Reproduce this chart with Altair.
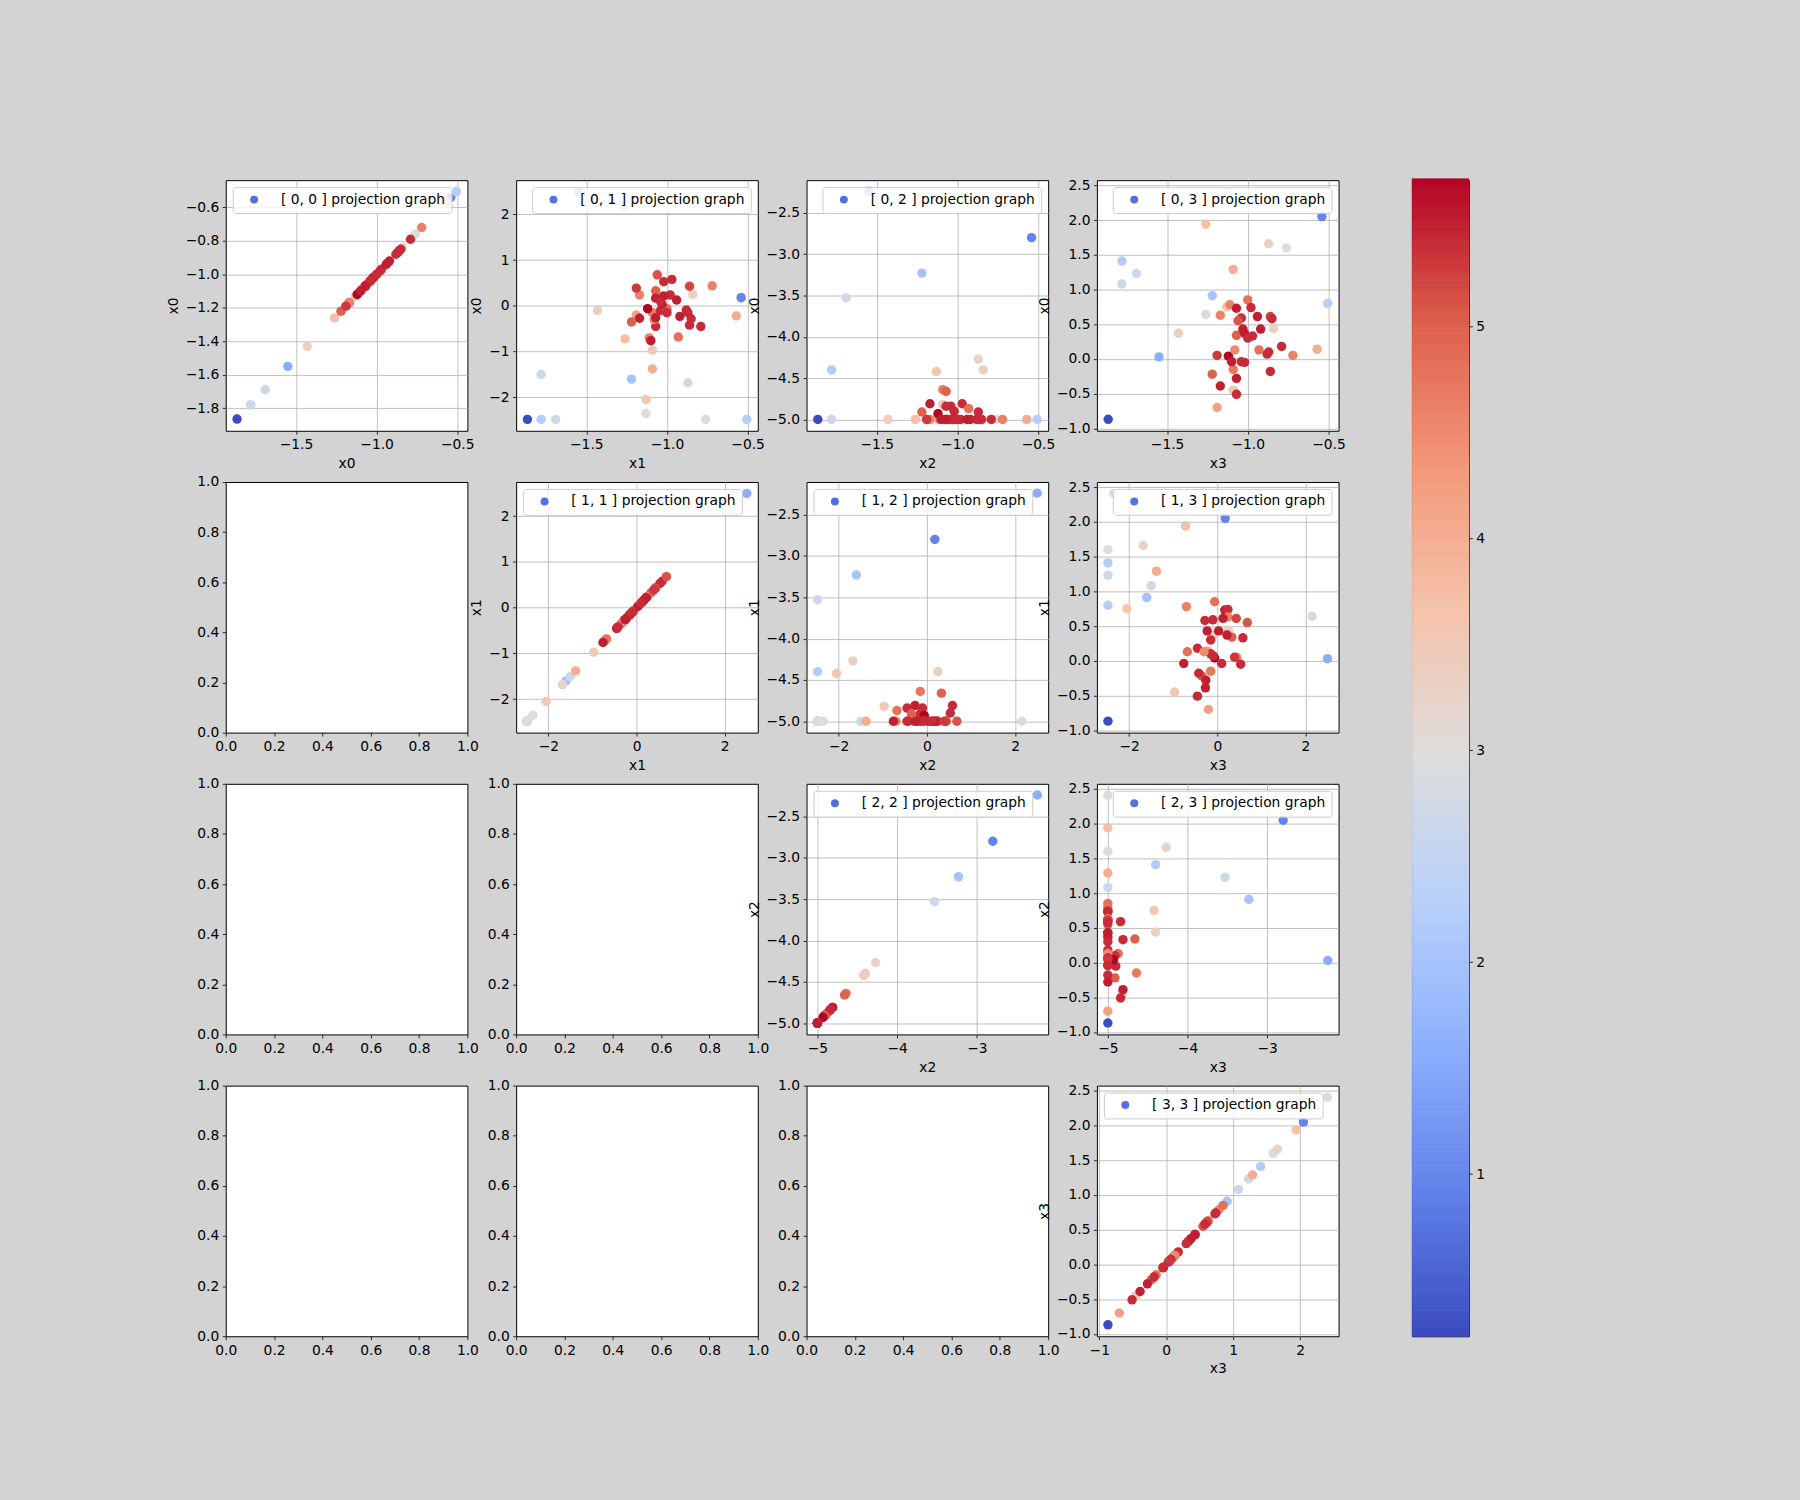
import altair as alt
import pandas as pd

# ---- data: 4-D sample points and their colour value ----
x0 = [-1.865, -0.54, -1.55, -1.22, -1.78, -1.78, -1.69, -0.505, -0.76, -1.13, -1.26,
      -0.87, -1.13, -1.09, -1.26, -1.43, -1.09, -0.84, -0.57, -0.72, -1.19, -1.11,
      -1.09, -1.07, -0.97, -1.02, -0.93, -1.07, -1.17, -1.04, -0.87, -1.22, -1.12,
      -1.00, -1.07, -0.98, -1.17, -1.06, -0.94, -0.86, -0.85, -0.92, -1.03, -1.02,
      -1.00, -0.79, -1.08, -0.88, -1.19, -1.10, -1.04, -0.86, -1.07]
x1 = [-2.48, 0.18, 2.50, -1.60, -2.48, -1.50, -2.48, -2.48, -2.48, -2.35, 2.15,
      -1.68, -2.05, -1.38, -0.72, -0.10, -0.97, 0.25, -0.22, 0.44, -0.20, -0.70,
      -0.15, 0.33, 0.58, 0.53, -0.68, -0.45, -0.27, -0.10, -0.15, -0.35, -0.06,
      -0.06, 0.17, 0.24, 0.24, 0.68, 0.13, 0.43, -0.28, -0.23, 0.03, 0.22,
      -0.15, -0.45, -0.30, -0.09, 0.39, -0.76, 0.10, -0.42, -0.26]
x2 = [-5.0, -2.80, -2.24, -3.23, -4.40, -5.0, -3.53, -5.0, -5.0, -5.0, -5.0,
      -4.27, -4.42, -5.0, -5.0, -5.0, -4.82, -4.40, -5.0, -5.0, -5.0, -5.0,
      -4.64, -4.66, -4.81, -4.90, -4.87, -4.84, -4.81, -4.84, -4.91, -4.91, -4.93,
      -5.0, -5.0, -5.0, -5.0, -5.0, -5.0, -5.0, -5.0, -5.0, -5.0, -5.0,
      -5.0, -5.0, -5.0, -5.0, -5.0, -5.0, -5.0, -5.0, -5.0]
x3 = [-0.87, 2.05, 0.03, 0.91, 1.41, 1.08, 1.23, 0.80, 1.60, 2.41, 0.64,
      1.66, 0.75, 1.29, 1.94, 0.37, -0.45, 0.44, 0.14, 0.05, -0.70, 0.78,
      -0.15, 0.34, 0.33, -0.05, 0.13, -0.51, -0.39, 0.59, 0.10, -0.22, 0.04,
      0.85, 0.73, 0.74, 0.63, 0.55, 0.61, 0.61, 0.58, 0.43, 0.43, 0.37,
      0.30, 0.18, 0.13, 0.07, 0.05, -0.04, -0.04, -0.18, -0.28]
value = [0.24, 0.95, 1.55, 2.0, 2.2, 2.65, 2.7, 2.25, 2.9, 3.0, 2.85,
         3.25, 3.6, 4.0, 3.7, 3.4, 3.5, 3.35, 4.0, 4.6, 4.2, 4.6,
         4.7, 5.0, 5.4, 5.4, 4.8, 5.4, 5.5, 5.4, 5.4, 5.0, 5.7,
         4.8, 5.5, 5.4, 4.6, 5.1, 5.5, 5.2, 5.4, 5.5, 5.5, 5.5,
         5.4, 5.4, 4.5, 5.4, 5.3, 5.5, 5.4, 5.4, 5.5]

# axis setup
DOMAINS = {"x0": [-1.935, -0.437], "x1": [-2.73, 2.75],
           "x2": [-5.137, -2.105], "x3": [-1.035, 2.575]}
XTICKS = {"x0": [-1.5, -1.0, -0.5], "x1": [-2, 0, 2],
          "x2": [-5, -4, -3], "x3": [-1, 0, 1, 2]}
YTICKS = {"x0": [-1.8, -1.6, -1.4, -1.2, -1.0, -0.8, -0.6], "x1": [-2, -1, 0, 1, 2],
          "x2": [-5.0, -4.5, -4.0, -3.5, -3.0, -2.5],
          "x3": [-1.0, -0.5, 0.0, 0.5, 1.0, 1.5, 2.0, 2.5]}
XFMT = {"x0": ".1f", "x1": "d", "x2": "d", "x3": "d"}
YFMT = {"x0": ".1f", "x1": "d", "x2": ".1f", "x3": ".1f"}
EMPTY_TICKS = [0.0, 0.2, 0.4, 0.6, 0.8, 1.0]
CBAR_TICKS = [1, 2, 3, 4, 5]
UPPER_LEFT = {(0, 0), (1, 1), (1, 2), (2, 2), (3, 3)}

COOLWARM = ["#3b4cc0", "#6282ea", "#8db0fe", "#b8d0f9", "#dddddd",
            "#f5c4ac", "#f4987a", "#de604d", "#b40426"]
CMIN, CMAX = 0.235, 5.69
cdomain = [CMIN + (CMAX - CMIN) * k / (len(COOLWARM) - 1) for k in range(len(COOLWARM))]
cscale = alt.Scale(domain=cdomain, range=COOLWARM, interpolate="rgb")

df = pd.DataFrame({"x0": x0, "x1": x1, "x2": x2, "x3": x3, "c": value})

W, H = 243, 252
HSP, VSP = 49, 51.5
FS = 13.9


def lab_expr(fmt):
    return f"replace(format(datum.value, '{fmt}'), '-', '\u2212')"


def scatter(i, j):
    xf, yf = f"x{i}", f"x{j}"
    lab = f"[ {i}, {j} ] projection graph"
    orient = "top-left" if (i, j) in UPPER_LEFT else "top-right"
    return alt.Chart(df).transform_calculate(lab=f"'{lab}'").mark_point(
        filled=True, size=90, opacity=1, strokeWidth=0
    ).encode(
        x=alt.X(f"{xf}:Q", scale=alt.Scale(domain=DOMAINS[xf], nice=False, zero=False),
                axis=alt.Axis(values=XTICKS[xf], labelExpr=lab_expr(XFMT[xf]),
                              title=f"x{j}", grid=True)),
        y=alt.Y(f"{yf}:Q", scale=alt.Scale(domain=DOMAINS[yf], nice=False, zero=False),
                axis=alt.Axis(values=YTICKS[yf], labelExpr=lab_expr(YFMT[yf]),
                              title=f"x{i}", grid=True)),
        color=alt.Color("c:Q", scale=cscale, legend=None),
        shape=alt.Shape("lab:N", scale=alt.Scale(domain=[lab], range=["circle"]),
                        legend=alt.Legend(title=None, orient=orient)),
    ).properties(width=W, height=H)


def empty():
    e = pd.DataFrame({"a": [0.0], "b": [0.0]})
    return alt.Chart(e).mark_point(opacity=0).encode(
        x=alt.X("a:Q", scale=alt.Scale(domain=[0, 1], nice=False),
                axis=alt.Axis(values=EMPTY_TICKS, labelExpr=lab_expr(".1f"), title=None, grid=False)),
        y=alt.Y("b:Q", scale=alt.Scale(domain=[0, 1], nice=False),
                axis=alt.Axis(values=EMPTY_TICKS, labelExpr=lab_expr(".1f"), title=None, grid=False)),
    ).properties(width=W, height=H)


panels = []
for i in range(4):
    for j in range(4):
        panels.append(scatter(i, j) if i <= j else empty())

grid = alt.concat(*panels, columns=4, spacing={"row": VSP, "column": HSP}, bounds="flush")
grid = grid.resolve_scale(shape="independent").resolve_legend(shape="independent")

cbar = alt.Chart(alt.sequence(CMIN, CMAX, 0.01, as_="v")).transform_calculate(
    v2="datum.v + 0.012"
).mark_rect(strokeWidth=0.6).encode(
    x=alt.value(0), x2=alt.value(57),
    y=alt.Y("v:Q", scale=alt.Scale(domain=[CMIN, CMAX], nice=False, zero=False),
            axis=alt.Axis(orient="right", values=CBAR_TICKS, format="d", title=None, grid=False)),
    y2="v2:Q",
    color=alt.Color("v:Q", scale=cscale, legend=None),
    stroke=alt.Stroke("v:Q", scale=cscale, legend=None),
).properties(width=57, height=4 * H + 3 * VSP)

chart = alt.hconcat(grid, cbar, spacing=65).properties(
    padding={"left": 166, "top": 174, "right": 316, "bottom": 121}
).configure(
    background="#d3d3d3", font="DejaVu Sans"
).configure_view(
    stroke="black", strokeWidth=1, fill="white"
).configure_axis(
    labelFont="DejaVu Sans", labelFontSize=FS, labelColor="black", labelPadding=3.5,
    labelFlush=False, labelOverlap=False,
    tickColor="black", tickSize=3.5, tickWidth=0.8, domain=False,
    gridColor="#b0b0b0", gridWidth=0.8,
    titleFont="DejaVu Sans", titleFontSize=FS, titleFontWeight="normal",
    titleColor="black", titlePadding=5,
).configure_legend(
    fillColor="rgba(255,255,255,0.8)", strokeColor="#cccccc", cornerRadius=3,
    padding=5.6, offset=7, labelFont="DejaVu Sans", labelFontSize=FS, labelColor="black",
    labelLimit=0, symbolType="circle", symbolFillColor="#5470de", symbolStrokeWidth=0,
    symbolSize=64, symbolOffset=9, labelOffset=20,
)

chart.save("out.html", embed_options={"renderer": "svg", "actions": False})
